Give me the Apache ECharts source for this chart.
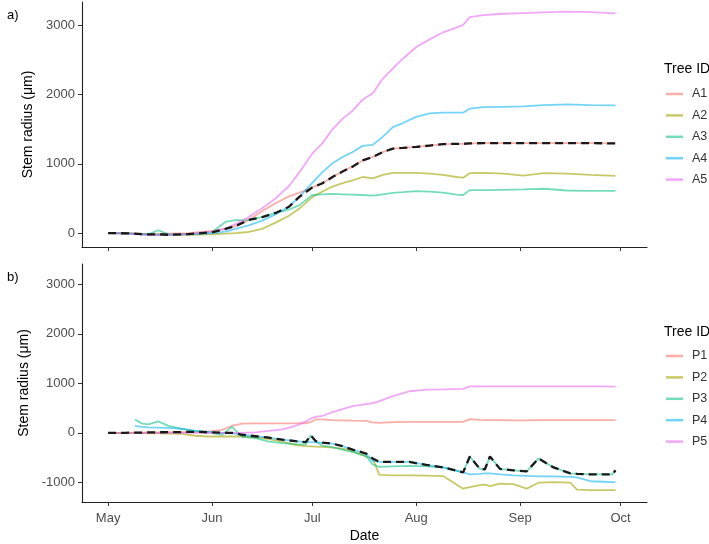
<!DOCTYPE html>
<html>
<head>
<meta charset="utf-8">
<title>Stem radius</title>
<script src="https://cdn.jsdelivr.net/npm/echarts@6/dist/echarts.min.js"></script>
<style>
  html, body { margin: 0; padding: 0; background: #fff; }
  #chart { width: 709px; height: 544px; }
</style>
</head>
<body>
<div id="chart"></div>
<script>
// x values are days since 1 May
var monthTicks = [0, 31, 61, 92, 123, 153];
var monthLabels = ['May', 'Jun', 'Jul', 'Aug', 'Sep', 'Oct'];
var ticksA = [0, 1000, 2000, 3000];
var ticksB = [-1000, 0, 1000, 2000, 3000];

var daysA = [0, 6, 12, 15, 18, 24, 31, 35, 38, 42, 46, 50, 54, 57, 61, 64, 67, 70, 73, 76,
  79, 82, 85, 88, 92, 96, 100, 104, 106, 108, 112, 118, 124, 130, 137, 144, 151.5];
var A1 = [0, -5, -15, -15, -10, 0, 30, 60, 100, 190, 320, 430, 530, 580, 660, 720, 810, 890, 960, 1050,
  1100, 1170, 1220, 1230, 1245, 1265, 1285, 1290, 1290, 1295, 1300, 1300, 1300, 1300, 1300, 1300, 1295];
var A2 = [0, -5, -20, -20, -25, -25, -20, -10, 0, 15, 60, 150, 250, 350, 520, 600, 670, 720, 760, 810,
  790, 840, 870, 870, 870, 860, 840, 810, 800, 865, 870, 860, 830, 865, 860, 840, 825];
var A3 = [0, -5, -20, 40, -20, -15, 10, 160, 185, 190, 230, 290, 340, 400, 550, 560, 565, 560, 555, 550,
  540, 560, 580, 590, 605, 600, 585, 555, 550, 620, 620, 625, 630, 640, 615, 610, 610];
var A4 = [0, -10, -25, -25, -25, -20, -5, 20, 60, 110, 180, 270, 380, 520, 730, 880, 1010, 1100, 1170, 1260,
  1275, 1390, 1530, 1590, 1680, 1730, 1740, 1740, 1740, 1800, 1820, 1825, 1830, 1850, 1860, 1850, 1845];
var A5 = [0, -10, -30, -30, -25, -15, 20, 60, 130, 230, 360, 500, 680, 870, 1150, 1300, 1500, 1650, 1770, 1930,
  2020, 2230, 2380, 2520, 2690, 2800, 2900, 2970, 3010, 3120, 3150, 3170, 3180, 3190, 3200, 3195, 3175];

var daysB = [0, 5, 8, 10, 12, 15, 18, 22, 26, 30, 34, 37, 40, 44, 48, 52, 56, 59, 60.5, 62,
  64, 67, 70, 73, 77, 79, 81, 85, 90, 95, 100, 106, 108, 111, 112.5, 114, 117, 121, 125, 128.5,
  133, 138, 140, 144, 148, 150.5, 151.5];
var P1 = [0, 0, 5, 5, 10, 10, 15, 15, 20, 30, 60, 140, 185, 190, 190, 190, 190, 190, 220, 270,
  270, 255, 250, 245, 240, 210, 200, 215, 220, 220, 220, 220, 275, 260, 255, 255, 255, 250, 250, 255,
  255, 255, 255, 255, 255, 255, 255];
var P2 = [0, 0, -5, -5, -10, -10, -15, -20, -60, -75, -75, -75, -75, -90, -130, -180, -250, -270, -275, -280,
  -285, -300, -320, -370, -480, -520, -850, -860, -860, -865, -875, -1130, -1100, -1060, -1050, -1080, -1030, -1040, -1130, -1010,
  -1000, -1010, -1150, -1160, -1160, -1160, -1160];
var P3 = [null, null, 270, 190, 170, 230, 140, 80, 40, 10, -40, 120, -80, -110, -180, -210, -230, -240, -50, -170,
  -260, -290, -340, -390, -470, -640, -690, -680, -670, -680, -700, -800, -480, -730, -740, -480, -730, -760, -780, -520,
  -700, -820, -830, -840, -840, -840, -760];
var P4 = [null, null, 140, 120, 110, 105, 100, 80, 40, 20, 0, -10, -40, -70, -100, -140, -170, -190, -190, -195,
  -200, -220, -270, -340, -420, -570, -590, -590, -590, -650, -700, -800, -840, -830, -820, -820, -840, -860, -870, -880,
  -880, -890, -900, -980, -990, -1000, -1000];
var P5 = [0, 0, 0, 0, 0, 0, 0, 0, 0, 0, 0, 0, 0, 10, 40, 70, 140, 230, 290, 320,
  340, 420, 480, 540, 580, 600, 640, 740, 840, 875, 880, 890, 940, 940, 940, 940, 940, 940, 940, 940,
  940, 940, 940, 940, 940, 935, 935];

var treeColors = ['rgba(248,118,109,0.6)', 'rgba(163,165,0,0.6)', 'rgba(0,191,125,0.55)',
  'rgba(0,176,246,0.55)', 'rgba(231,107,243,0.6)'];

function median(list) {
  var v = list.filter(function (x) { return x != null; }).sort(function (a, b) { return a - b; });
  return v[Math.floor(v.length / 2)];
}

function medianLine(days, groups) {
  return days.map(function (d, i) {
    return [d, median(groups.map(function (g) { return g[i]; }))];
  });
}

function treeSeries(name, days, vals, idx, panel) {
  var pts = [];
  days.forEach(function (d, i) { if (vals[i] != null) pts.push([d, vals[i]]); });
  return {
    name: name, type: 'line', xAxisIndex: panel, yAxisIndex: panel,
    data: pts, symbol: 'none', animation: false,
    color: treeColors[idx],
    lineStyle: { width: 1.8, color: treeColors[idx] },
    z: 2
  };
}

function dashSeries(data, panel) {
  return {
    name: 'median' + panel, type: 'line', xAxisIndex: panel, yAxisIndex: panel,
    data: data, symbol: 'none', animation: false,
    lineStyle: { width: 2.3, color: '#1a1a1a', type: [8, 5] },
    z: 5
  };
}

var myChart = echarts.init(document.getElementById('chart'));

var axisLine = { show: true, onZero: false, lineStyle: { color: '#222', width: 1.1 } };
var axisTickX = { show: true, length: 4, lineStyle: { color: '#333' }, customValues: monthTicks };
var labelStyle = { color: '#4d4d4d', fontSize: 13, fontFamily: 'Liberation Sans, Arial, sans-serif' };

var xBase = {
  type: 'value', min: -7.8, max: 160.9,
  axisLine: axisLine, splitLine: { show: false }
};

var legendBase = {
  orient: 'vertical', left: 666, padding: 0,
  icon: 'rect', itemWidth: 17, itemHeight: 2.5, itemGap: 7.4, selectedMode: false,
  textStyle: { color: '#333', fontSize: 12.5, lineHeight: 14, padding: [0, 0, 0, 4] }
};

var option = {
  animation: false,
  textStyle: { fontFamily: 'Liberation Sans, Arial, sans-serif' },
  title: [
    { text: 'a)', left: 2, top: 4, textStyle: { fontSize: 13, fontWeight: 'normal', color: '#000' } },
    { text: 'b)', left: 2, top: 266, textStyle: { fontSize: 13, fontWeight: 'normal', color: '#000' } },
    { text: 'Tree ID', left: 664, top: 62, padding: 0, textStyle: { fontSize: 14, fontWeight: 'normal', color: '#000' } },
    { text: 'Tree ID', left: 664, top: 325, padding: 0, textStyle: { fontSize: 14, fontWeight: 'normal', color: '#000' } }
  ],
  legend: [
    Object.assign({}, legendBase, { data: ['A1', 'A2', 'A3', 'A4', 'A5'], top: 87 }),
    Object.assign({}, legendBase, { data: ['P1', 'P2', 'P3', 'P4', 'P5'], top: 349 })
  ],
  grid: [
    { left: 82, top: 2, width: 565, height: 245 },
    { left: 82, top: 264, width: 565, height: 244 }
  ],
  xAxis: [
    Object.assign({}, xBase, {
      gridIndex: 0,
      axisTick: axisTickX,
      axisLabel: { show: false, customValues: monthTicks }
    }),
    Object.assign({}, xBase, {
      gridIndex: 1,
      axisTick: axisTickX,
      axisLabel: Object.assign({
        customValues: monthTicks, margin: 10,
        formatter: function (v) { return monthLabels[monthTicks.indexOf(v)]; }
      }, labelStyle),
      name: 'Date', nameLocation: 'middle', nameGap: 27,
      nameTextStyle: { color: '#000', fontSize: 14 }
    })
  ],
  yAxis: [0, 1].map(function (p) {
    var ticks = p === 0 ? ticksA : ticksB;
    return {
      type: 'value', gridIndex: p,
      min: p === 0 ? -202 : -1400, max: p === 0 ? 3340 : 3414,
      axisLine: axisLine, splitLine: { show: false },
      axisTick: { show: true, length: 4, lineStyle: { color: '#333' }, customValues: ticks },
      axisLabel: Object.assign({
        customValues: ticks, margin: 7,
        formatter: function (v) { return String(v); }
      }, labelStyle),
      name: 'Stem radius (\u03bcm)', nameLocation: 'middle', nameGap: 44,
      nameTextStyle: { color: '#000', fontSize: 14 }
    };
  }),
  series: [
    treeSeries('A1', daysA, A1, 0, 0),
    treeSeries('A2', daysA, A2, 1, 0),
    treeSeries('A3', daysA, A3, 2, 0),
    treeSeries('A4', daysA, A4, 3, 0),
    treeSeries('A5', daysA, A5, 4, 0),
    dashSeries(medianLine(daysA, [A1, A2, A3, A4, A5]), 0),
    treeSeries('P1', daysB, P1, 0, 1),
    treeSeries('P2', daysB, P2, 1, 1),
    treeSeries('P3', daysB, P3, 2, 1),
    treeSeries('P4', daysB, P4, 3, 1),
    treeSeries('P5', daysB, P5, 4, 1),
    dashSeries(medianLine(daysB, [P1, P2, P3, P4, P5]), 1)
  ]
};

myChart.setOption(option);

window.addEventListener('resize', function () {
  myChart.resize();
});
</script>
</body>
</html>
